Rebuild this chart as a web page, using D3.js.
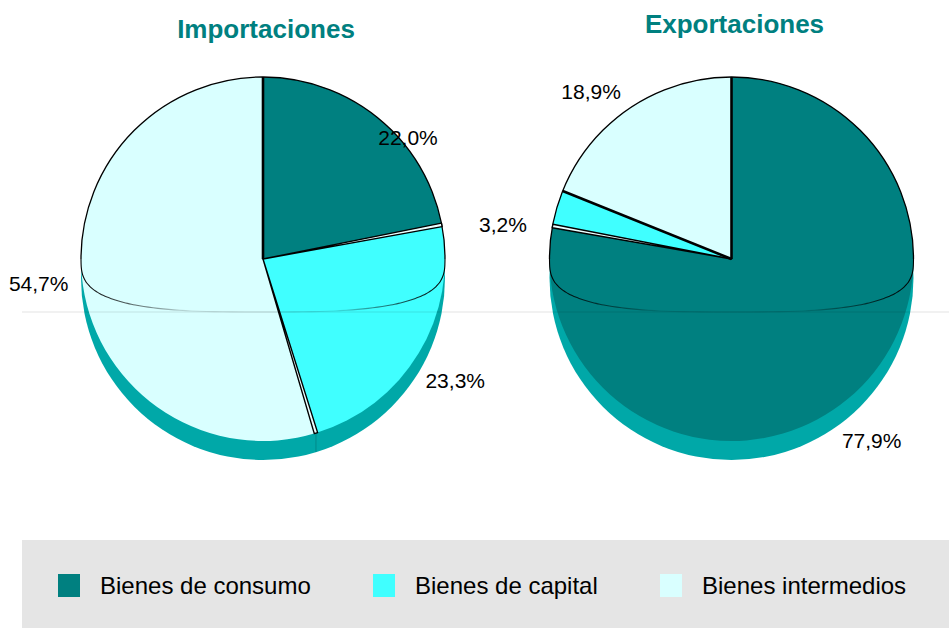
<!DOCTYPE html>
<html>
<head>
<meta charset="utf-8">
<script src="https://cdn.jsdelivr.net/npm/d3@7"></script>
<style>
  body { margin: 0; background: #fff; }
  text { font-family: Arial, "Liberation Sans", sans-serif; }
</style>
</head>
<body>
<div id="chart"></div>
<script>
// data
const categories = ['Bienes de consumo', 'Bienes de capital', 'Bienes intermedios'];
const titles = ['Importaciones', 'Exportaciones'];
const importValues = [22.0, 23.3, 54.7];
const exportValues = [77.9, 3.2, 18.9];
const colors = ['#008080', '#40ffff', '#d9ffff'];

// layout of each pie (centre, label placement, boundaries drawn as double line)
const pieLayout = [
  { cx: 263,   titleY: 38, labelK: [1.04, 1.25, 1.24], labelShift: [10.4, 1.2, 2.2], gapAfter: [0, 1] },
  { cx: 731.5, titleY: 33, labelK: [1.26, 1.27, 1.20], labelShift: [2.1, -7.5, -6],  gapAfter: [0] }
];

const w = 949;
const h = 628;
const cy = 259;
const r = 182;
const depth = 19;
const bend = 53;   // how far the front edge of the top face drops

const svg = d3.select("#chart")
              .append("svg")
              .attr("width", w)
              .attr("height", h);

const defs = svg.append("defs");
const fmt = v => d3.format(".1f")(v).replace('.', ',') + '%';
const rad = deg => deg * Math.PI / 180;

const pie = d3.pie().sort(null).value(d => d);
const arc = d3.arc().innerRadius(0).outerRadius(r);

function drawPie(values, i) {
  const lay = pieLayout[i];
  const cx = lay.cx;
  const g = svg.append("g");
  const slices = pie(values);

  // side of the pie
  g.append("circle")
    .attr("cx", cx).attr("cy", cy + depth).attr("r", r)
    .attr("fill", "#00a8a8");

  // top face
  g.selectAll("path.slice")
    .data(slices)
    .enter()
    .append("path")
    .attr("class", "slice")
    .attr("transform", "translate(" + cx + "," + cy + ")")
    .attr("d", arc)
    .attr("fill", (d, j) => colors[j]);

  // faint slice edges on the side
  slices.forEach(function(d) {
    const a = d.endAngle;
    if (a > Math.PI / 2 && a < Math.PI * 1.5) {
      const x = cx + r * Math.sin(a), y = cy - r * Math.cos(a);
      g.append("line")
        .attr("x1", x).attr("y1", y).attr("x2", x).attr("y2", y + depth)
        .attr("stroke", "rgba(0,0,0,0.18)").attr("stroke-width", 1);
    }
  });

  // outline: upper half circle
  const p = d3.path();
  p.moveTo(cx - r, cy);
  p.arc(cx, cy, r, Math.PI, 2 * Math.PI);
  g.append("path")
    .attr("d", p.toString())
    .attr("fill", "none")
    .attr("stroke", "#000")
    .attr("stroke-width", 1.3);

  // outline: front edge, squarish curve fading in the middle
  const gid = "fade" + i;
  const grad = defs.append("linearGradient")
    .attr("id", gid)
    .attr("gradientUnits", "userSpaceOnUse")
    .attr("x1", cx - r).attr("x2", cx + r).attr("y1", 0).attr("y2", 0);
  [[0, 1], [0.3, 0.12], [0.7, 0.12], [1, 1]].forEach(s => {
    grad.append("stop").attr("offset", s[0]).attr("stop-color", "#000").attr("stop-opacity", s[1]);
  });
  const pts = d3.range(-90, 91, 2).map(function(t) {
    const s = Math.sin(rad(t)), c = Math.cos(rad(t));
    const x = Math.sign(s) * Math.pow(Math.abs(s), 2 / 3);
    const y = Math.pow(Math.abs(c), 2 / 3);
    return [cx + r * x, cy + bend * y];
  });
  g.append("path")
    .attr("d", d3.line().curve(d3.curveBasis)(pts))
    .attr("fill", "none")
    .attr("stroke", "url(#" + gid + ")")
    .attr("stroke-width", 1.1);

  // boundaries between slices
  slices.forEach(function(d, j) {
    const a = d.endAngle % (2 * Math.PI);
    if (lay.gapAfter.indexOf(j) >= 0) {
      const gap = d3.arc().innerRadius(0).outerRadius(r)
        .startAngle(a - rad(0.55)).endAngle(a + rad(0.55));
      g.append("path")
        .attr("transform", "translate(" + cx + "," + cy + ")")
        .attr("d", gap())
        .attr("fill", "#eaffff")
        .attr("stroke", "#000")
        .attr("stroke-width", 1.4)
        .attr("stroke-linejoin", "round");
    } else {
      g.append("line")
        .attr("x1", cx).attr("y1", cy)
        .attr("x2", cx + r * Math.sin(a)).attr("y2", cy - r * Math.cos(a))
        .attr("stroke", "#000")
        .attr("stroke-width", 2.6);
    }
  });

  // percentage labels
  g.selectAll("text.lbl")
    .data(slices)
    .enter()
    .append("text")
    .attr("class", "lbl")
    .attr("x", (d, j) => cx + lay.labelK[j] * r * Math.sin((d.startAngle + d.endAngle) / 2 + rad(lay.labelShift[j])))
    .attr("y", (d, j) => cy - lay.labelK[j] * r * Math.cos((d.startAngle + d.endAngle) / 2 + rad(lay.labelShift[j])))
    .attr("text-anchor", "middle")
    .attr("dominant-baseline", "central")
    .style("font-size", "21px")
    .attr("fill", "#000")
    .text(d => fmt(d.value));

  // title
  svg.append("text")
    .attr("x", cx + 3)
    .attr("y", lay.titleY)
    .attr("text-anchor", "middle")
    .style("font-size", "26px")
    .style("font-weight", "bold")
    .attr("fill", "#008080")
    .text(titles[i]);
}

drawPie(importValues, 0);
drawPie(exportValues, 1);

// faint horizontal rule through both pies
svg.append("line")
  .attr("x1", 22).attr("x2", w)
  .attr("y1", cy + bend).attr("y2", cy + bend)
  .attr("stroke", "rgba(0,0,0,0.11)")
  .attr("stroke-width", 1);

// legend
const legend = svg.append("g");
legend.append("rect")
  .attr("x", 22).attr("y", 540)
  .attr("width", w - 22).attr("height", h - 540)
  .attr("fill", "#e5e5e5");

const legendX = [58, 373, 660];
categories.forEach(function(c, j) {
  legend.append("rect")
    .attr("x", legendX[j]).attr("y", 574)
    .attr("width", 22).attr("height", 23)
    .attr("fill", colors[j]);
  legend.append("text")
    .attr("x", legendX[j] + 42)
    .attr("y", 585)
    .attr("dominant-baseline", "central")
    .style("font-size", "24px")
    .attr("fill", "#000")
    .text(c);
});
</script>
</body>
</html>
